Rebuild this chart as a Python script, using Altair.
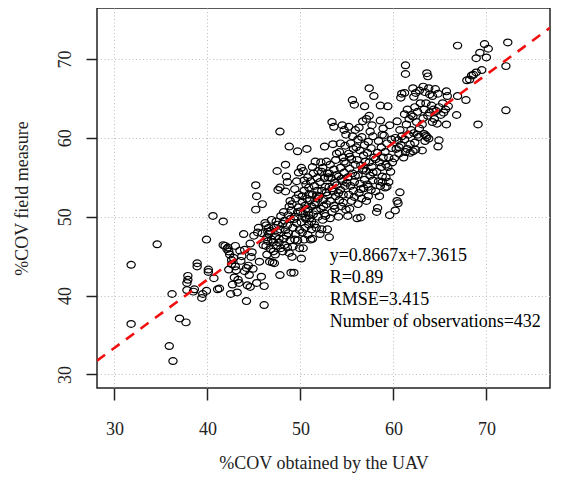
import altair as alt
import pandas as pd

# ---------------- data ----------------
# (UAV %COV, field %COV) pairs, grouped by UAV range
pts_below_40 = [
    (31.8, 43.9), (31.8, 36.4), (34.6, 46.5), (35.9, 33.6), (36.3, 31.7), (36.2, 40.2),
    (37.0, 37.1), (37.7, 36.6), (37.9, 42.5), (37.9, 42.0), (37.8, 41.6), (37.8, 40.7),
    (38.5, 40.5), (38.6, 40.8), (38.9, 44.1), (38.9, 43.7), (39.5, 40.2), (39.4, 39.7),
    (39.9, 47.1), (39.9, 40.6),
]
pts_40_46 = [
    (40.1, 43.3), (40.1, 43.0), (40.6, 50.1), (40.7, 42.2), (41.1, 40.8), (41.3, 40.9),
    (41.7, 49.4), (41.7, 46.4), (41.9, 46.3), (42.1, 45.9), (42.3, 45.6), (42.2, 46.1),
    (42.4, 45.2), (42.3, 43.3), (42.6, 44.5), (42.6, 44.0), (42.5, 40.2), (42.9, 42.3),
    (42.8, 44.8), (43.0, 46.3), (43.2, 40.4), (43.4, 41.6), (43.5, 45.7), (43.1, 43.2),
    (43.0, 43.7), (43.7, 45.0), (43.9, 47.8), (44.0, 45.8), (44.0, 43.1), (44.2, 43.5),
    (44.2, 39.3), (44.3, 41.3), (44.4, 43.8), (44.5, 42.6), (44.6, 41.1), (44.7, 44.9),
    (44.6, 46.6), (44.8, 45.5), (45.0, 47.6), (45.2, 54.0), (45.3, 52.6), (45.2, 50.9),
    (45.4, 48.0), (45.5, 48.6), (45.3, 41.6), (45.8, 42.4), (45.9, 51.6), (46.1, 38.8),
    (46.1, 41.2), (46.0, 46.4), (46.2, 49.2), (45.9, 47.9), (45.6, 44.3), (43.6, 44.4),
    (44.9, 43.4), (43.3, 42.0), (42.7, 41.4),
]
pts_46_52 = [
    (46.3, 46.3), (46.4, 47.4), (46.5, 48.1), (46.6, 48.6), (46.3, 48.9), (46.7, 44.3),
    (46.8, 45.9), (46.9, 47.1), (46.5, 46.9), (46.8, 48.2), (46.9, 49.6), (46.4, 45.2),
    (46.6, 47.8),
    (47.0, 44.2), (47.2, 44.1), (47.1, 45.6), (47.3, 45.2), (47.4, 46.3), (47.1, 46.8),
    (47.3, 47.5), (47.5, 48.1), (47.2, 48.6), (47.6, 49.0), (47.8, 48.4), (47.7, 47.2),
    (47.9, 46.0), (47.4, 49.4), (47.6, 53.4), (47.8, 53.7), (47.5, 55.8), (47.8, 60.8),
    (47.8, 42.6), (47.9, 50.1), (47.7, 46.7),
    (48.1, 45.6), (48.3, 46.4), (48.2, 47.2), (48.5, 47.6), (48.4, 48.3), (48.6, 48.9),
    (48.3, 49.5), (48.7, 50.2), (48.8, 51.3), (48.9, 47.0), (48.6, 46.1), (48.8, 45.4),
    (48.1, 49.1), (48.4, 53.2), (48.5, 55.1), (48.4, 56.6), (48.8, 58.9), (48.9, 49.7),
    (48.2, 50.6), (48.7, 47.9), (48.9, 52.0), (48.6, 54.4),
    (49.0, 42.9), (49.3, 42.9), (49.1, 44.9), (49.2, 46.2), (49.4, 47.1), (49.5, 47.8),
    (49.2, 48.6), (49.6, 49.2), (49.4, 50.0), (49.7, 50.6), (49.8, 51.2), (49.1, 51.6),
    (49.5, 52.3), (49.9, 48.3), (49.7, 47.0), (49.3, 49.7), (49.6, 54.5), (49.8, 55.6),
    (49.7, 58.3), (49.9, 46.0), (49.8, 52.8), (49.0, 50.8), (49.4, 53.5),
    (50.1, 44.7), (50.3, 46.0), (50.4, 47.1), (50.2, 48.0), (50.5, 48.6), (50.1, 49.3),
    (50.6, 49.7), (50.3, 50.4), (50.8, 50.9), (50.5, 51.4), (50.2, 51.9), (50.7, 52.3),
    (50.9, 52.8), (50.4, 53.3), (50.6, 54.1), (50.8, 55.0), (50.3, 55.8), (50.7, 58.6),
    (50.9, 49.0), (50.8, 47.7), (50.2, 52.6), (50.6, 51.0), (50.9, 53.7), (50.0, 50.7),
    (50.5, 49.9), (50.9, 50.2), (50.4, 54.6), (50.1, 56.2),
    (51.1, 47.1), (51.3, 47.2), (51.2, 48.4), (51.5, 49.0), (51.0, 49.8), (51.4, 50.3),
    (51.7, 50.8), (51.2, 51.3), (51.6, 51.8), (51.9, 52.3), (51.3, 52.8), (51.8, 53.3),
    (51.5, 53.9), (51.1, 54.5), (51.8, 54.9), (51.4, 55.5), (51.6, 57.0), (51.9, 50.0),
    (51.0, 52.1), (51.7, 48.6), (51.3, 56.3), (51.9, 55.8), (51.2, 49.4), (51.5, 51.5),
    (51.8, 52.7),
]
pts_52_58 = [
    (52.1, 47.8), (52.3, 48.4), (52.4, 49.6), (52.6, 50.4), (52.2, 51.0), (52.8, 51.6),
    (52.5, 52.2), (52.9, 52.7), (52.3, 53.3), (52.7, 53.8), (52.1, 54.4), (52.6, 54.9),
    (52.9, 55.5), (52.4, 56.2), (52.8, 57.0), (52.6, 58.9), (52.2, 56.9), (52.9, 48.4),
    (52.0, 52.6), (52.5, 51.3), (52.7, 50.1), (52.3, 55.7), (52.8, 53.1),
    (53.1, 47.4), (53.2, 49.8), (53.4, 50.6), (53.6, 51.4), (53.2, 52.0), (53.8, 52.6),
    (53.5, 53.2), (53.1, 53.8), (53.7, 54.3), (53.3, 54.9), (53.9, 55.3), (53.6, 56.0),
    (53.2, 56.6), (53.8, 57.2), (53.5, 59.2), (53.4, 62.0), (53.9, 58.0), (53.1, 55.5),
    (53.7, 51.0), (53.4, 53.6), (53.9, 54.0), (53.6, 61.4), (53.0, 55.0),
    (54.1, 50.0), (54.4, 51.3), (54.2, 52.1), (54.6, 52.8), (54.3, 53.4), (54.8, 53.9),
    (54.5, 54.5), (54.1, 55.1), (54.7, 55.6), (54.3, 56.2), (54.9, 56.8), (54.6, 57.5),
    (54.2, 58.2), (54.8, 59.0), (54.5, 61.6), (54.7, 61.0), (54.9, 60.4), (54.4, 54.8),
    (54.6, 51.8), (54.9, 50.9), (54.1, 53.0), (54.7, 57.0), (54.3, 59.3),
    (55.1, 50.1), (55.3, 51.0), (55.5, 52.0), (55.2, 52.8), (55.7, 53.3), (55.4, 53.9),
    (55.8, 54.4), (55.1, 55.0), (55.6, 55.5), (55.3, 56.1), (55.9, 56.6), (55.5, 57.3),
    (55.2, 58.0), (55.7, 58.6), (55.4, 59.3), (55.6, 64.8), (55.8, 64.2), (55.9, 61.0),
    (55.2, 61.4), (55.6, 60.2), (55.0, 54.3), (55.8, 52.5), (55.3, 57.6), (55.9, 55.2),
    (56.1, 49.8), (56.5, 49.9), (56.2, 51.6), (56.6, 52.3), (56.3, 53.0), (56.8, 53.6),
    (56.4, 54.2), (56.9, 54.7), (56.2, 55.3), (56.7, 55.9), (56.5, 56.5), (56.1, 57.2),
    (56.8, 57.8), (56.4, 58.4), (56.9, 59.1), (56.6, 60.1), (56.3, 61.3), (56.7, 62.1),
    (56.9, 64.0), (56.0, 58.8), (56.5, 53.5), (56.8, 56.1), (56.2, 59.8),
    (57.1, 52.0), (57.3, 52.6), (57.6, 53.4), (57.2, 54.1), (57.8, 54.6), (57.5, 55.2),
    (57.1, 55.8), (57.7, 56.3), (57.4, 56.9), (57.9, 57.5), (57.2, 58.1), (57.6, 58.7),
    (57.3, 59.5), (57.8, 60.2), (57.5, 60.8), (57.1, 62.4), (57.4, 62.8), (57.4, 66.3),
    (57.9, 65.3), (57.7, 61.6), (57.0, 57.0), (57.8, 55.6), (57.3, 53.8),
]
pts_58_64 = [
    (58.2, 50.6), (58.3, 51.1), (58.1, 53.2), (58.6, 53.9), (58.4, 54.5), (58.8, 55.1),
    (58.2, 55.7), (58.7, 56.3), (58.5, 56.9), (58.9, 57.5), (58.3, 58.1), (58.7, 58.8),
    (58.4, 59.6), (58.8, 60.4), (58.6, 62.2), (58.9, 61.2), (58.6, 64.1), (58.1, 57.3),
    (58.5, 52.6), (58.8, 54.4),
    (59.1, 53.7), (59.3, 53.8), (59.6, 50.2), (59.2, 55.0), (59.7, 55.7), (59.4, 56.3),
    (59.9, 56.9), (59.5, 57.5), (59.1, 58.2), (59.8, 58.7), (59.3, 59.3), (59.6, 61.6),
    (59.4, 64.0), (59.0, 60.3), (59.8, 59.8), (59.2, 56.6), (59.5, 54.4),
    (60.2, 50.8), (60.5, 51.7), (60.7, 53.1), (60.4, 52.0), (60.1, 57.4), (60.6, 58.0),
    (60.3, 58.6), (60.8, 59.1), (60.5, 59.7), (60.9, 60.2), (60.2, 60.0), (60.7, 61.0),
    (60.8, 65.1), (60.9, 65.6), (60.4, 62.1), (60.6, 58.8),
    (61.1, 57.5), (61.3, 58.2), (61.5, 58.6), (61.8, 59.2), (61.2, 59.8), (61.6, 60.4),
    (61.9, 61.0), (61.4, 61.7), (61.7, 62.4), (61.2, 63.0), (61.3, 68.1), (61.3, 69.2),
    (61.2, 65.7), (61.9, 62.9), (61.5, 63.6), (61.8, 58.1),
    (62.1, 58.3), (62.4, 58.5), (62.3, 59.4), (62.7, 60.1), (62.2, 60.6), (62.8, 61.2),
    (62.5, 62.0), (62.1, 62.7), (62.6, 63.3), (62.3, 63.9), (62.9, 64.4), (62.1, 66.3),
    (62.4, 65.7), (62.8, 66.0), (62.2, 65.2), (62.6, 60.4),
    (63.1, 58.4), (63.4, 59.6), (63.6, 60.1), (63.3, 60.5), (63.8, 59.9), (63.5, 60.3),
    (63.2, 62.5), (63.7, 62.8), (63.6, 68.2), (63.7, 67.8), (63.4, 65.8), (63.8, 66.3),
    (63.2, 66.5), (63.9, 65.5), (63.5, 64.4), (63.1, 61.7), (63.9, 63.2), (63.3, 63.6),
]
pts_above_64 = [
    (64.2, 65.3), (64.5, 66.2), (64.8, 65.6), (64.3, 63.6), (64.6, 63.4), (64.1, 64.1),
    (64.8, 58.9), (64.9, 59.7), (64.4, 62.4), (64.7, 61.8), (64.9, 63.9), (64.2, 62.0),
    (65.7, 65.9), (65.8, 65.3), (65.7, 61.7), (65.4, 63.2), (65.9, 64.0), (65.3, 64.4),
    (65.6, 63.6), (65.1, 62.9),
    (66.9, 71.7), (66.8, 62.9), (66.9, 65.3), (67.8, 64.8), (67.9, 67.3),
    (68.2, 67.4), (68.4, 67.9), (68.6, 68.0), (68.9, 68.3), (68.9, 70.1),
    (69.1, 61.7), (69.3, 70.8), (69.5, 68.6), (69.8, 71.9), (70.0, 70.2), (70.2, 71.3),
    (72.1, 63.5), (72.1, 69.1), (72.3, 72.1),
]

fit_slope = 0.8667
fit_intercept = 7.3615
stats_lines = ["y=0.8667x+7.3615", "R=0.89", "RMSE=3.415", "Number of observations=432"]
tick_values = [30, 40, 50, 60, 70]

# ---------------- layout / style ----------------
X_DOMAIN = [28.13, 76.84]
Y_DOMAIN = [28.28, 76.47]
FONT = "Liberation Serif"
INK = "#222222"
W, H = 453, 380
# slightly wide open circle (the reference image is stretched horizontally)
RING = "M-1,0A1,0.82,0,1,0,1,0A1,0.82,0,1,0,-1,0Z"

all_pts = pts_below_40 + pts_40_46 + pts_46_52 + pts_52_58 + pts_58_64 + pts_above_64
pts_df = pd.DataFrame(all_pts, columns=["x", "y"])

line_df = pd.DataFrame({"x": X_DOMAIN})
line_df["y"] = fit_slope * line_df["x"] + fit_intercept

text_x = 53.15
text_y = [45.0, 42.2, 39.4, 36.6]
text_df = pd.DataFrame({"x": [text_x] * len(stats_lines), "y": text_y, "label": stats_lines})

x_scale = alt.Scale(domain=X_DOMAIN, nice=False, zero=False)
y_scale = alt.Scale(domain=Y_DOMAIN, nice=False, zero=False)

grid_kw = dict(grid=True, gridColor="#bdbdbd", gridDash=[1, 2.5], gridWidth=1, domain=False,
               tickColor=INK, tickWidth=1.5, labelFont=FONT, labelFontSize=18,
               labelColor=INK, titleFont=FONT, titleFontSize=18, titleFontWeight="normal",
               titleColor=INK, labelFlush=False, labelOverlap=False)

x_axis = alt.Axis(values=tick_values, title="%COV obtained by the UAV", tickSize=12,
                  labelPadding=20, titleX=W / 2, titleY=80, titleAlign="center",
                  titleBaseline="alphabetic", titleAnchor="middle", **grid_kw)
y_axis = alt.Axis(values=tick_values, title="%COV field measure", tickSize=11,
                  labelAngle=270, labelAlign="center", labelBaseline="middle",
                  labelPadding=21, titleAngle=270, titleX=-75, titleY=H / 2,
                  titleAlign="center", titleBaseline="middle", **grid_kw)


def enc_x():
    return alt.X("x:Q", scale=x_scale, axis=x_axis)


def enc_y():
    return alt.Y("y:Q", scale=y_scale, axis=y_axis)


points = alt.Chart(pts_df).mark_point(
    shape=RING, filled=False, size=68, strokeWidth=1.2, color="black", opacity=1
).encode(x=enc_x(), y=enc_y())

fit = alt.Chart(line_df).mark_line(
    color="#f01010", strokeWidth=2.6, strokeDash=[10, 8], clip=True
).encode(x=enc_x(), y=enc_y())

labels = alt.Chart(text_df).mark_text(
    align="left", baseline="middle", font=FONT, fontSize=18, color="black"
).encode(x=enc_x(), y=enc_y(), text="label:N")

chart = alt.layer(points, fit, labels).properties(
    width=W, height=H,
    autosize=alt.AutoSizeParams(type="none"),
    padding={"left": 89, "top": 0, "right": 4, "bottom": 87},
    background="white",
).configure_view(stroke=INK, strokeWidth=1.5)

chart.save("out.html", embed_options={"renderer": "svg", "actions": False})
